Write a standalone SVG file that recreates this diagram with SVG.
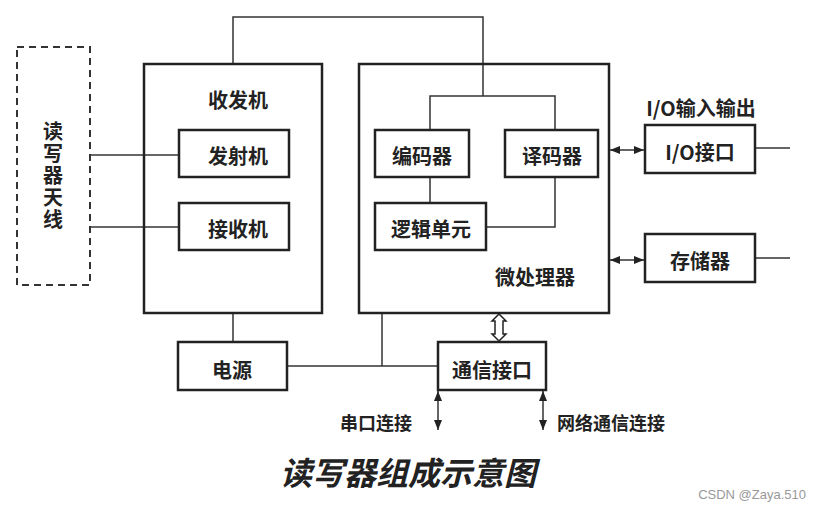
<svg xmlns="http://www.w3.org/2000/svg" width="821" height="510" viewBox="0 0 821 510">
<defs>
<marker id="ah" viewBox="0 0 10 8" refX="10" refY="4" markerWidth="10" markerHeight="8" markerUnits="userSpaceOnUse" orient="auto-start-reverse">
<path d="M0,0 L10,4 L0,8 Z" fill="#222"/>
</marker>
</defs>
<style>
.box{fill:#fff;stroke:#222;stroke-width:2.5}
.big{fill:none;stroke:#222;stroke-width:2.5}
.ln{fill:none;stroke:#333;stroke-width:1.5}
.t{font-family:"Noto Sans CJK SC","Liberation Serif",serif;font-size:20px;font-weight:bold;fill:#222;text-anchor:middle;dominant-baseline:central}
.lb{font-family:"Noto Sans CJK SC","Liberation Serif",serif;font-size:18px;font-weight:bold;fill:#222;dominant-baseline:central}
</style>
<rect width="821" height="510" fill="#fff"/>
<g id="connectors">
<path class="ln" d="M233,64 V17 H483 V96"/>
<path class="ln" d="M430,130 V96 H555 V130"/>
<path class="ln" d="M430,177 V203"/>
<path class="ln" d="M555,177 V227 H486"/>
<path class="ln" d="M90,155 H179"/>
<path class="ln" d="M90,227 H179"/>
<path class="ln" d="M755,148 H790"/>
<path class="ln" d="M755,258 H790"/>
<path class="ln" d="M233,313 V342"/>
<path class="ln" d="M287,366 H438"/>
<path class="ln" d="M382,313 V366"/>
<path class="ln" d="M610,150 H644" marker-start="url(#ah)" marker-end="url(#ah)"/>
<path class="ln" d="M610,260 H644" marker-start="url(#ah)" marker-end="url(#ah)"/>
<path class="ln" d="M438,391 V430" marker-start="url(#ah)" marker-end="url(#ah)"/>
<path class="ln" d="M543,391 V430" marker-start="url(#ah)" marker-end="url(#ah)"/>
<path d="M499,314 L506,321 L503,321 L503,334 L506,334 L499,341 L492,334 L495,334 L495,321 L492,321 Z" fill="#fff" stroke="#222" stroke-width="1.5"/>
</g>
<g id="antenna">
<rect x="17" y="47" width="73" height="238" fill="none" stroke="#333" stroke-width="2" stroke-dasharray="7,5"/>
<text class="t" x="53" y="176" writing-mode="vertical-rl" style="writing-mode:vertical-rl;letter-spacing:2px">读写器天线</text>
</g>
<g id="transceiver">
<rect class="big" x="144" y="64" width="178" height="249"/>
<text class="t" x="238" y="99">收发机</text>
</g>
<g id="transmitter">
<rect class="box" x="179" y="130" width="110" height="47"/>
<text class="t" x="238" y="155">发射机</text>
</g>
<g id="receiver">
<rect class="box" x="179" y="203" width="110" height="47"/>
<text class="t" x="238" y="228">接收机</text>
</g>
<g id="microprocessor">
<rect class="big" x="359" y="64" width="250" height="249"/>
<text class="t" x="535" y="276">微处理器</text>
</g>
<g id="encoder">
<rect class="box" x="375" y="130" width="94" height="47"/>
<text class="t" x="422" y="155">编码器</text>
</g>
<g id="decoder">
<rect class="box" x="505" y="130" width="93" height="47"/>
<text class="t" x="552" y="155">译码器</text>
</g>
<g id="logic">
<rect class="box" x="375" y="203" width="111" height="47"/>
<text class="t" x="431" y="228">逻辑单元</text>
</g>
<g id="io">
<text class="t" x="701" y="107">I/O输入输出</text>
<rect class="box" x="645" y="125" width="110" height="48"/>
<text class="t" x="700" y="151">I/O接口</text>
</g>
<g id="memory">
<rect class="box" x="645" y="234" width="110" height="48"/>
<text class="t" x="700" y="260">存储器</text>
</g>
<g id="power">
<rect class="box" x="178" y="342" width="109" height="48"/>
<text class="t" x="232" y="369">电源</text>
</g>
<g id="comm">
<rect class="box" x="438" y="342" width="108" height="48"/>
<text class="t" x="492" y="369">通信接口</text>
</g>
<g id="labels">
<text class="lb" x="340" y="422">串口连接</text>
<text class="lb" x="557" y="422">网络通信连接</text>
<text x="408" y="471" font-family="'Noto Sans CJK SC',sans-serif" font-size="32" font-weight="bold" font-style="italic" fill="#222" text-anchor="middle" dominant-baseline="central">读写器组成示意图</text>
<text x="806" y="494" font-family="'Liberation Sans',sans-serif" font-size="13" fill="#999" text-anchor="end" dominant-baseline="central">CSDN @Zaya.510</text>
</g>
</svg>
